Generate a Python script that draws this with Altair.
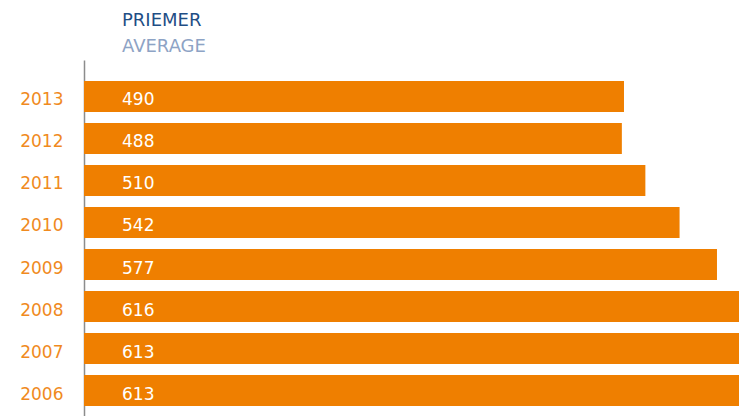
import altair as alt
import pandas as pd

years = ["2013", "2012", "2011", "2010", "2009", "2008", "2007", "2006"]
values = [490, 488, 510, 542, 577, 616, 613, 613]

df = pd.DataFrame({"year": years, "value": values})

ORANGE = "#EF7F00"
FONT = "DejaVu Sans"
X_MIN = -15.2
X_MAX = 597.6

y_enc = alt.Y(
    "year:N",
    sort=years,
    scale=alt.Scale(paddingInner=0.262, paddingOuter=0.5),
    axis=alt.Axis(
        title=None,
        ticks=False,
        domainColor="#8c8c8c",
        domainWidth=1.5,
        labelColor="#F08A1E",
        labelFont=FONT,
        labelFontSize=17,
        labelPadding=21,
        labelOffset=4,
    ),
)

bars = alt.Chart(df).mark_bar(color=ORANGE, clip=True).encode(
    x=alt.X(
        "value:Q",
        scale=alt.Scale(domain=[X_MIN, X_MAX], nice=False, zero=False),
        axis=None,
    ),
    x2=alt.datum(X_MIN),
    y=y_enc,
)

labels = alt.Chart(df).mark_text(
    align="left", baseline="middle", color="white", font=FONT, fontSize=17, dy=4
).encode(
    x=alt.value(38),
    y=alt.Y("year:N", sort=years),
    text="value:Q",
)

chart = (
    alt.layer(bars, labels)
    .properties(
        width=655,
        height=367,
        autosize=alt.AutoSizeParams(type="none"),
        padding={"left": 76, "top": 52, "right": 0, "bottom": 0},
        title=alt.TitleParams(
            text="PRIEMER",
            subtitle="AVERAGE",
            anchor="start",
            frame="group",
            dx=38,
            offset=4,
            font=FONT,
            fontSize=18,
            fontWeight="normal",
            color="#1F4E85",
            subtitleFont=FONT,
            subtitleFontSize=18,
            subtitleColor="#8DA3C5",
            subtitlePadding=8,
        ),
    )
    .configure_view(stroke=None)
)

chart.save("out.html", embed_options={"renderer": "svg", "actions": False})
